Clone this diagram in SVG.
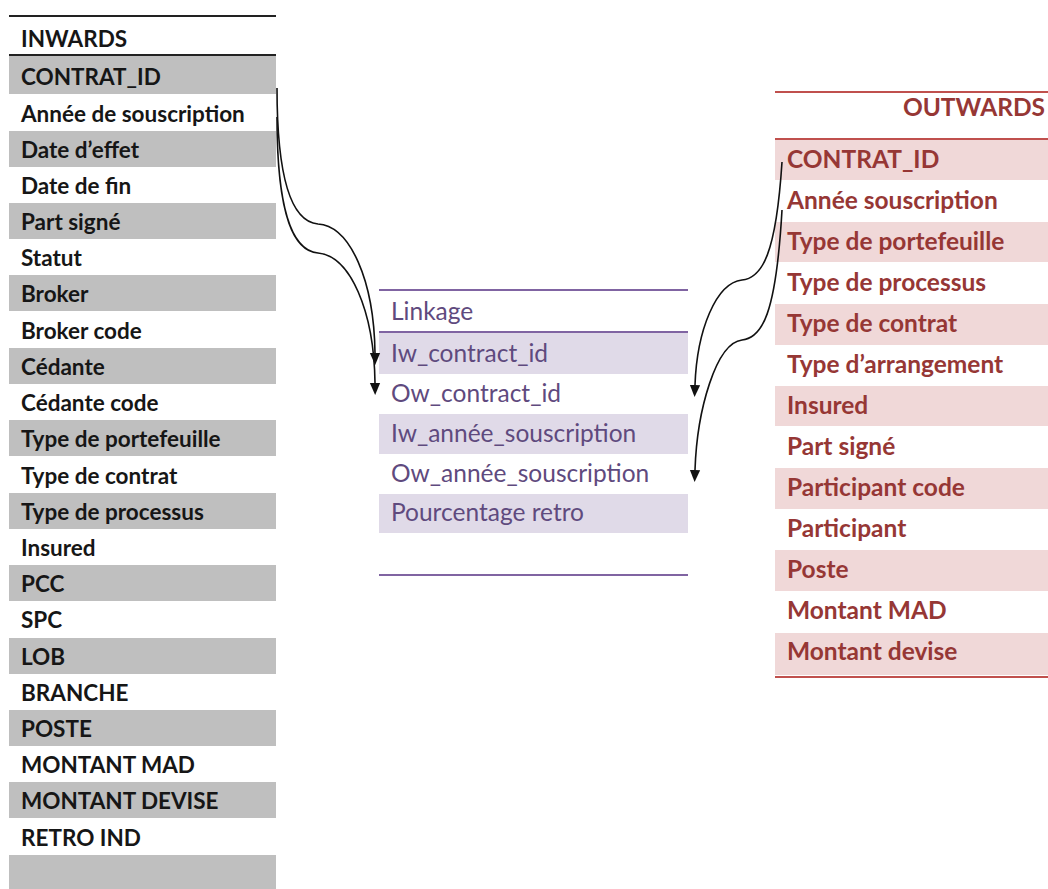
<svg xmlns="http://www.w3.org/2000/svg" width="1048" height="889" viewBox="0 0 1048 889">
<style>
.lt{font-family:Lato,"Liberation Sans",sans-serif;font-weight:bold;font-size:22.5px;fill:#161616}
.lg{fill:#bfbfbf}
.mt{font-family:Lato,"Liberation Sans",sans-serif;font-size:24.5px;fill:#5f4a7e}
.mg{fill:#e0dae8}
.rt{font-family:Lato,"Liberation Sans",sans-serif;font-weight:bold;font-size:24.5px;fill:#963735}
.rg{fill:#f0d8d8}
.conn{fill:none;stroke:#111;stroke-width:1.6}
</style>
<defs>
<marker id="ah" markerUnits="userSpaceOnUse" markerWidth="12" markerHeight="14" refX="0" refY="6" orient="auto" viewBox="0 0 14 12">
<path d="M0,0 L14,6 L0,12 z" fill="#111"/>
</marker>
</defs>
<rect width="1048" height="889" fill="#fff"/>
<g id="inwards">
<line x1="9" y1="16" x2="276" y2="16" stroke="#222" stroke-width="1.8"/>
<text class="lt" x="21" y="47">INWARDS</text>
<line x1="9" y1="55" x2="276" y2="55" stroke="#222" stroke-width="1.8"/>
<rect class="lg" x="9" y="56" width="267" height="38"/>
<rect class="lg" x="9" y="131" width="267" height="36"/>
<rect class="lg" x="9" y="203" width="267" height="36"/>
<rect class="lg" x="9" y="275" width="267" height="36"/>
<rect class="lg" x="9" y="348" width="267" height="36"/>
<rect class="lg" x="9" y="420" width="267" height="36"/>
<rect class="lg" x="9" y="493" width="267" height="36"/>
<rect class="lg" x="9" y="565" width="267" height="36"/>
<rect class="lg" x="9" y="638" width="267" height="36"/>
<rect class="lg" x="9" y="710" width="267" height="36"/>
<rect class="lg" x="9" y="782" width="267" height="36"/>
<rect class="lg" x="9" y="855" width="267" height="34"/>
<text class="lt" x="21" y="85">CONTRAT_ID</text>
<text class="lt" x="21" y="122">Année de souscription</text>
<text class="lt" x="21" y="158">Date d’effet</text>
<text class="lt" x="21" y="194">Date de fin</text>
<text class="lt" x="21" y="230">Part signé</text>
<text class="lt" x="21" y="266">Statut</text>
<text class="lt" x="21" y="302">Broker</text>
<text class="lt" x="21" y="339">Broker code</text>
<text class="lt" x="21" y="375">Cédante</text>
<text class="lt" x="21" y="411">Cédante code</text>
<text class="lt" x="21" y="447">Type de portefeuille</text>
<text class="lt" x="21" y="484">Type de contrat</text>
<text class="lt" x="21" y="520">Type de processus</text>
<text class="lt" x="21" y="556">Insured</text>
<text class="lt" x="21" y="592">PCC</text>
<text class="lt" x="21" y="628">SPC</text>
<text class="lt" x="21" y="665">LOB</text>
<text class="lt" x="21" y="701">BRANCHE</text>
<text class="lt" x="21" y="737">POSTE</text>
<text class="lt" x="21" y="773">MONTANT MAD</text>
<text class="lt" x="21" y="809">MONTANT DEVISE</text>
<text class="lt" x="21" y="846">RETRO IND</text>
</g>
<g id="linkage">
<line x1="379" y1="290" x2="688" y2="290" stroke="#8064a2" stroke-width="1.8"/>
<text class="mt" x="391" y="320">Linkage</text>
<line x1="379" y1="332" x2="688" y2="332" stroke="#8064a2" stroke-width="1.8"/>
<rect class="mg" x="379" y="333" width="309" height="41"/>
<rect class="mg" x="379" y="414" width="309" height="40"/>
<rect class="mg" x="379" y="494" width="309" height="39"/>
<text class="mt" x="391" y="362">Iw_contract_id</text>
<text class="mt" x="391" y="402">Ow_contract_id</text>
<text class="mt" x="391" y="442">Iw_année_souscription</text>
<text class="mt" x="391" y="482">Ow_année_souscription</text>
<text class="mt" x="391" y="521">Pourcentage retro</text>
<line x1="379" y1="575" x2="688" y2="575" stroke="#8064a2" stroke-width="1.8"/>
</g>
<g id="outwards">
<line x1="775" y1="92" x2="1048" y2="92" stroke="#c0504d" stroke-width="1.8"/>
<text class="rt" x="1045" y="116" text-anchor="end">OUTWARDS</text>
<line x1="775" y1="139" x2="1048" y2="139" stroke="#c0504d" stroke-width="1.8"/>
<rect class="rg" x="775" y="140" width="273" height="40"/>
<rect class="rg" x="775" y="222" width="273" height="40"/>
<rect class="rg" x="775" y="304" width="273" height="41"/>
<rect class="rg" x="775" y="386" width="273" height="40"/>
<rect class="rg" x="775" y="468" width="273" height="41"/>
<rect class="rg" x="775" y="550" width="273" height="41"/>
<rect class="rg" x="775" y="633" width="273" height="42"/>
<line x1="775" y1="677" x2="1048" y2="677" stroke="#c0504d" stroke-width="1.8"/>
<text class="rt" x="787" y="168">CONTRAT_ID</text>
<text class="rt" x="787" y="209">Année souscription</text>
<text class="rt" x="787" y="250">Type de portefeuille</text>
<text class="rt" x="787" y="291">Type de processus</text>
<text class="rt" x="787" y="332">Type de contrat</text>
<text class="rt" x="787" y="373">Type d’arrangement</text>
<text class="rt" x="787" y="414">Insured</text>
<text class="rt" x="787" y="455">Part signé</text>
<text class="rt" x="787" y="496">Participant code</text>
<text class="rt" x="787" y="537">Participant</text>
<text class="rt" x="787" y="578">Poste</text>
<text class="rt" x="787" y="619">Montant MAD</text>
<text class="rt" x="787" y="660">Montant devise</text>
</g>
<g id="connectors">
<path class="conn" d="M277,88 C277,190 295,222 318,224 C350,226 374,280 375,353" marker-end="url(#ah)"/>
<path class="conn" d="M277,117 C277,220 295,251 318,253 C350,256 374,310 375,383" marker-end="url(#ah)"/>
<path class="conn" d="M782,162 C776,255 762,278 742,280 C716,283 697,330 695,385" marker-end="url(#ah)"/>
<path class="conn" d="M782,210 C776,315 762,338 742,340 C716,343 697,410 695,470" marker-end="url(#ah)"/>
</g>
</svg>
